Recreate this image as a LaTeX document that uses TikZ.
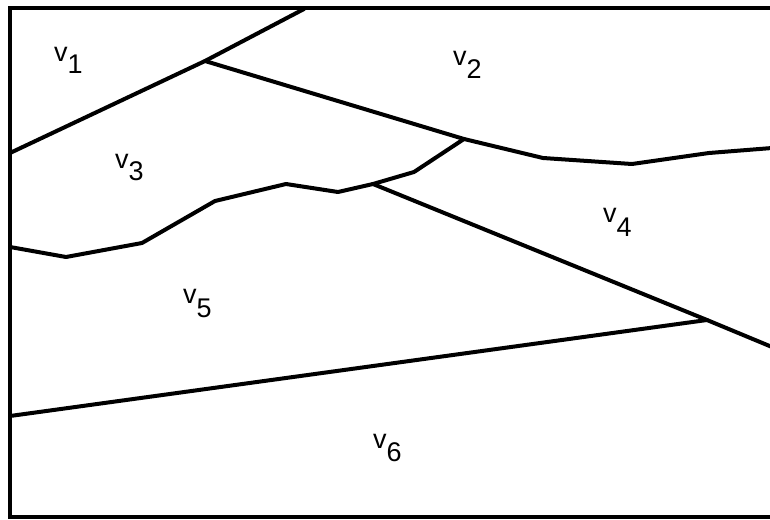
\documentclass[tikz,border=0pt]{standalone}
\usepackage{fontspec}
\setmainfont{Liberation Sans}
\begin{document}
\begin{tikzpicture}[x=1pt,y=-1pt,
  edge/.style={line width=4pt,line join=round,line cap=round},
  frame/.style={line width=4.4pt},
  lab/.style={anchor=base west,inner sep=0pt,font=\fontsize{27}{27}\selectfont}]
\useasboundingbox (0,0) rectangle (770,519);
\fill[white] (0,0) rectangle (770,519);
% frame
\draw[frame] (775,8) -- (10,8) -- (10,517) -- (775,517);
% junction coordinates
\coordinate (A) at (10,153);
\coordinate (B) at (304,9);
\coordinate (J1) at (205,61);
\coordinate (J2) at (464,139);
\coordinate (J3) at (373,184);
\coordinate (J4) at (707,320);
\coordinate (R1) at (772,148);
\coordinate (R2) at (772,347);
\coordinate (L1) at (10,247);
\coordinate (L2) at (10,416);
% region boundaries
\draw[edge] (A) -- (J1) -- (B);
\draw[edge] (J1) -- (J2) -- (543,158) -- (632,164) -- (709,153) -- (R1);
\draw[edge] (J2) -- (414,172) -- (J3);
\draw[edge] (L1) -- (66,257) -- (142,243) -- (215,201) -- (286,184) -- (338,192) -- (J3);
\draw[edge] (J3) -- (J4) -- (R2);
\draw[edge] (J4) -- (L2);
% labels
\node[lab] (v1) at (54,61) {v\raisebox{-12pt}{1}};
\node[lab] (v2) at (453,66) {v\raisebox{-13pt}{2}};
\node[lab] (v3) at (115,168) {v\raisebox{-12pt}{3}};
\node[lab] (v4) at (603,222) {v\raisebox{-14pt}{4}};
\node[lab] (v5) at (183,303) {v\raisebox{-14pt}{5}};
\node[lab] (v6) at (373,448) {v\raisebox{-13pt}{6}};
\end{tikzpicture}
\end{document}
